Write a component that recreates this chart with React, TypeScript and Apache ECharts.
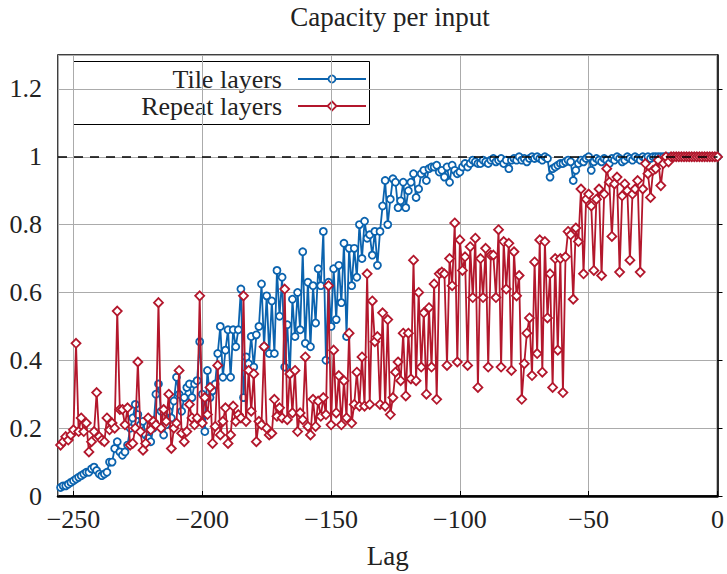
import React, { useEffect, useRef } from "react";
import * as echarts from "echarts";

const lagStart = -255;

const tileLayers = [
  0.025, 0.03, 0.03, 0.035, 0.04, 0.045, 0.05, 0.055, 0.06, 0.065,
  0.07, 0.07, 0.08, 0.085, 0.075, 0.065, 0.06, 0.065, 0.07, 0.1,
  0.1, 0.14, 0.16, 0.13, 0.12, 0.13, 0.15, 0.2, 0.23, 0.27,
  0.24, 0.21, 0.22, 0.18, 0.17, 0.16, 0.2, 0.3, 0.33, 0.25,
  0.18, 0.21, 0.25, 0.23, 0.28, 0.35, 0.3, 0.25, 0.29, 0.32,
  0.33, 0.29, 0.33, 0.34, 0.455, 0.3, 0.19, 0.37, 0.29, 0.31,
  0.33, 0.42, 0.5, 0.35, 0.43, 0.49, 0.35, 0.49, 0.44, 0.49,
  0.61, 0.29, 0.41, 0.39, 0.47, 0.38, 0.475, 0.5, 0.625, 0.44,
  0.59, 0.42, 0.575, 0.42, 0.665, 0.53, 0.645, 0.38, 0.505, 0.36,
  0.58, 0.47, 0.6, 0.49, 0.72, 0.45, 0.63, 0.44, 0.62, 0.51,
  0.67, 0.62, 0.78, 0.4, 0.63, 0.5, 0.67, 0.52, 0.68, 0.57,
  0.745, 0.47, 0.73, 0.62, 0.73, 0.645, 0.8, 0.7, 0.81, 0.76,
  0.77, 0.71, 0.78, 0.68, 0.78, 0.855, 0.93, 0.8, 0.875, 0.935,
  0.925, 0.85, 0.87, 0.925, 0.85, 0.9, 0.925, 0.95, 0.88, 0.905,
  0.95, 0.96, 0.93, 0.965, 0.97, 0.97, 0.975, 0.955, 0.96, 0.94,
  0.97, 0.925, 0.975, 0.96, 0.95, 0.955, 0.97, 0.98, 0.97, 0.98,
  0.99, 0.985, 0.98, 0.98, 0.99, 0.985, 0.98, 0.99, 0.995, 0.985,
  0.99, 0.995, 0.98, 0.99, 0.965, 0.99, 0.995, 0.99, 1.0, 0.99,
  0.995, 0.985, 0.995, 1.0, 0.995, 1.0, 0.995, 0.99, 1.0, 0.995,
  0.94, 0.965, 0.97, 0.975, 0.98, 0.98, 0.985, 0.99, 0.985, 0.93,
  0.96, 0.98, 0.99, 0.985, 0.995, 1.0, 0.96, 0.985, 0.995, 0.99,
  0.985, 0.995, 0.99, 0.98, 0.995, 0.99, 1.0, 0.995, 0.985, 0.99,
  1.0, 0.995, 0.99, 1.0, 0.995, 0.99, 1.0, 0.995, 1.0, 0.995,
  1, 1, 1, 1, 1, 1, 1, 1, 1, 1,
  1, 1, 1, 1, 1, 1, 1, 1, 1, 1,
  1, 1, 1, 1, 1, 1,
];

const repeatLayers = [
  0.15, 0.16, 0.175, 0.165, 0.18, 0.195, 0.45, 0.19, 0.23, 0.19,
  0.215, 0.13, 0.16, 0.19, 0.305, 0.175, 0.165, 0.16, 0.23, 0.195,
  0.215, 0.2, 0.545, 0.255, 0.255, 0.21, 0.26, 0.15, 0.155, 0.2,
  0.395, 0.19, 0.135, 0.155, 0.23, 0.195, 0.22, 0.21, 0.57, 0.2,
  0.255, 0.22, 0.3, 0.14, 0.2, 0.215, 0.37, 0.185, 0.16, 0.19,
  0.27, 0.23, 0.21, 0.23, 0.59, 0.215, 0.29, 0.24, 0.32, 0.155,
  0.205, 0.385, 0.18, 0.22, 0.26, 0.155, 0.18, 0.265, 0.22, 0.24,
  0.23, 0.59, 0.22, 0.37, 0.25, 0.36, 0.16, 0.22, 0.21, 0.44,
  0.2, 0.18, 0.185, 0.285, 0.235, 0.26, 0.23, 0.61, 0.225, 0.36,
  0.245, 0.37, 0.19, 0.245, 0.225, 0.41, 0.205, 0.18, 0.285, 0.205,
  0.28, 0.235, 0.29, 0.24, 0.62, 0.21, 0.43, 0.245, 0.355, 0.21,
  0.34, 0.23, 0.48, 0.215, 0.27, 0.365, 0.265, 0.41, 0.265, 0.655,
  0.27, 0.575, 0.455, 0.47, 0.27, 0.54, 0.265, 0.52, 0.24, 0.29,
  0.365, 0.395, 0.34, 0.48, 0.295, 0.48, 0.345, 0.695, 0.34, 0.6,
  0.38, 0.54, 0.3, 0.555, 0.38, 0.625, 0.285, 0.655, 0.66, 0.655,
  0.385, 0.7, 0.62, 0.805, 0.395, 0.755, 0.665, 0.705, 0.385, 0.735,
  0.585, 0.76, 0.32, 0.7, 0.585, 0.73, 0.38, 0.71, 0.71, 0.585,
  0.785, 0.38, 0.75, 0.61, 0.745, 0.37, 0.72, 0.59, 0.65, 0.285,
  0.39, 0.48, 0.525, 0.355, 0.69, 0.42, 0.755, 0.365, 0.75, 0.525,
  0.655, 0.32, 0.7, 0.43, 0.7, 0.305, 0.705, 0.78, 0.77, 0.58,
  0.79, 0.75, 0.905, 0.655, 0.875, 0.89, 0.855, 0.665, 0.875, 0.905,
  0.65, 0.89, 0.965, 0.925, 0.765, 0.92, 0.94, 0.66, 0.885, 0.92,
  0.9, 0.695, 0.89, 0.905, 0.93, 0.66, 0.905, 0.98, 0.95, 0.88,
  0.96, 0.965, 0.99, 0.915, 0.98, 1.0, 0.985, 1, 1, 1,
  1, 1, 1, 1, 1, 1, 1, 1, 1, 1,
  1, 1, 1, 1, 1, 1,
];

const seriesNames = ["Tile layers", "Repeat layers"];
const titleText = "Capacity per input";
const xAxisName = "Lag";
const referenceLevel = 1;

const BLUE = "#0b63ae";
const RED = "#b3172c";
const FONT = "'Liberation Serif', 'Times New Roman', serif";
const TEXT = "#222";

export default function App() {
  const ref = useRef<HTMLDivElement>(null);

  useEffect(() => {
    if (!ref.current) return;
    const chart = echarts.init(ref.current, null, { renderer: "svg" });
    const tileData = tileLayers.map((v, i) => [lagStart + i, v]);
    const repeatData = repeatLayers.map((v, i) => [lagStart + i, v]);

    chart.setOption({
      animation: false,
      backgroundColor: "#fff",
      textStyle: { fontFamily: FONT },
      title: {
        text: titleText,
        left: 390,
        textAlign: "center",
        top: 3,
        padding: 0,
        textStyle: { fontFamily: FONT, fontSize: 27, fontWeight: "normal", color: TEXT },
      },
      grid: {
        left: 58,
        right: 5,
        top: 55,
        bottom: 77,
        show: true,
        borderColor: "#000",
        borderWidth: 1.5,
        backgroundColor: "transparent",
      },
      xAxis: {
        type: "value",
        min: -256,
        max: 0,
        splitNumber: 5,
        name: xAxisName,
        nameLocation: "middle",
        nameGap: 46,
        nameTextStyle: { fontFamily: FONT, fontSize: 27, color: TEXT },
        axisLine: { show: true, lineStyle: { color: "#000", width: 2.5 } },
        axisTick: { show: true, inside: true, length: 5, lineStyle: { color: "#000", width: 1 } },
        axisLabel: {
          showMinLabel: false,
          fontFamily: FONT,
          fontSize: 26,
          color: TEXT,
          margin: 10,
          formatter: (v: number) => String(v).replace("-", "\u2212"),
        },
        splitLine: { show: true, lineStyle: { color: "#ababab", width: 1 } },
      },
      yAxis: {
        type: "value",
        min: 0,
        max: 1.3,
        interval: 0.2,
        axisLine: { show: true, lineStyle: { color: "#000", width: 1.5 } },
        axisTick: { show: true, inside: true, length: 5, lineStyle: { color: "#000", width: 1 } },
        axisLabel: {
          showMaxLabel: false,
          fontFamily: FONT,
          fontSize: 26,
          color: TEXT,
          margin: 16,
          formatter: (v: number) => String(Math.round(v * 10) / 10),
        },
        splitLine: { show: true, lineStyle: { color: "#ababab", width: 1 } },
      },
      series: [
        {
          type: "line",
          name: seriesNames[0],
          data: tileData,
          symbol: "circle",
          symbolSize: 7,
          showSymbol: true,
          showAllSymbol: true,
          lineStyle: { color: BLUE, width: 1.8 },
          itemStyle: { color: "#fff", borderColor: BLUE, borderWidth: 1.8 },
          markLine: {
            silent: true,
            symbol: "none",
            label: { show: false },
            lineStyle: { color: "#000", type: [9, 7], width: 1.6 },
            data: [{ yAxis: referenceLevel }],
          },
          z: 2,
        },
        {
          type: "line",
          name: seriesNames[1],
          data: repeatData,
          symbol: "diamond",
          symbolSize: 9,
          showSymbol: true,
          showAllSymbol: true,
          lineStyle: { color: RED, width: 1.8 },
          itemStyle: { color: "#fff", borderColor: RED, borderWidth: 1.8 },
          z: 3,
        },
      ],
      graphic: [
        {
          type: "group",
          z: 100,
          children: [
            {
              type: "rect",
              shape: { x: 73.5, y: 61.5, width: 296, height: 63 },
              style: { fill: "#fff", stroke: "#000", lineWidth: 1 },
            },
            {
              type: "text",
              x: 282,
              y: 79,
              style: {
                text: seriesNames[0],
                fontFamily: FONT,
                fontSize: 26,
                lineHeight: 26,
                fill: TEXT,
                align: "right",
                verticalAlign: "middle",
              },
            },
            {
              type: "text",
              x: 282,
              y: 106,
              style: {
                text: seriesNames[1],
                fontFamily: FONT,
                fontSize: 26,
                lineHeight: 26,
                fill: TEXT,
                align: "right",
                verticalAlign: "middle",
              },
            },
            {
              type: "line",
              shape: { x1: 298, y1: 79, x2: 366, y2: 79 },
              style: { stroke: BLUE, lineWidth: 1.8 },
            },
            {
              type: "circle",
              shape: { cx: 332, cy: 79, r: 3.5 },
              style: { fill: "#fff", stroke: BLUE, lineWidth: 1.8 },
            },
            {
              type: "line",
              shape: { x1: 298, y1: 106, x2: 366, y2: 106 },
              style: { stroke: RED, lineWidth: 1.8 },
            },
            {
              type: "polygon",
              shape: { points: [[332, 101.5], [336.5, 106], [332, 110.5], [327.5, 106]] },
              style: { fill: "#fff", stroke: RED, lineWidth: 1.8 },
            },
          ],
        },
      ],
    });

    return () => chart.dispose();
  }, []);

  return (
    <div
      ref={ref}
      style={{ position: "fixed", left: 0, top: 0, width: 727, height: 574, background: "#fff" }}
    />
  );
}
